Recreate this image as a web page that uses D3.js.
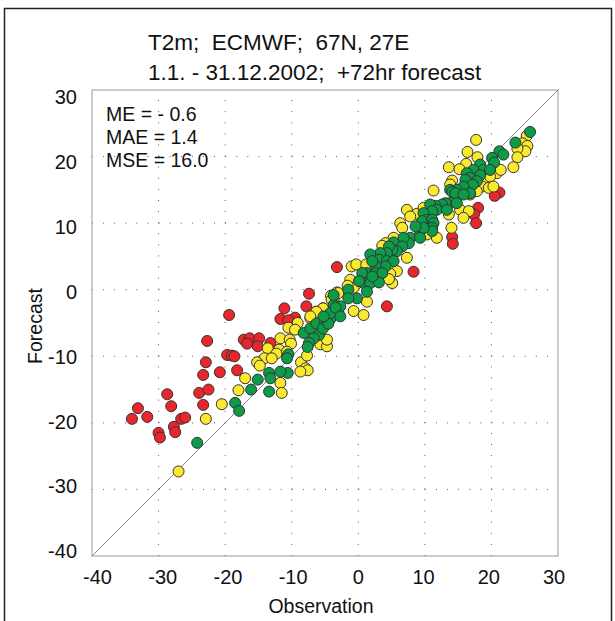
<!DOCTYPE html>
<meta charset="utf-8">
<script src="https://d3js.org/d3.v7.min.js"></script>
<style>
  body { margin: 0; background: #fff; }
  text { font-family: "Liberation Sans", Arial, sans-serif; fill: #111; white-space: pre; }
</style>
<div id="my_dataviz"></div>
<script>

// data: [observation, forecast]
var redPoints = [
  [-3.2,3.4],[-7.4,-0.6],[-7.8,-2.5],[-11.1,-2.8],[-9.5,-4.2],[-11.7,-4.4],[-10.5,-4.6],
  [-19.4,-3.8],[-17.2,-7.5],[-16.3,-7.3],[-14.9,-7.3],[-16.7,-8.1],[-15.1,-8.5],[-13.2,-8.0],
  [-22.7,-7.7],[-19.7,-9.8],[-19.0,-9.9],[-18.6,-10.0],[-22.9,-10.9],[-23.3,-12.8],[-20.8,-12.4],
  [-18.2,-12.1],[-23.9,-15.5],[-22.5,-15.0],[-23.3,-17.3],[-28.7,-15.7],[-28.1,-17.5],[-33.1,-17.8],
  [-31.7,-19.1],[-34.0,-19.4],[-26.6,-19.4],[-26.0,-19.2],[-27.7,-20.6],[-27.5,-21.4],[-30.0,-21.5],
  [-29.8,-22.2],[21.2,14.6],[20.5,14.1],[18.0,12.3],[17.4,11.3],[17.7,10.0],[14.1,7.9],[14.2,6.9],
  [8.3,2.7],[4.3,-2.5]
];
var yellowPoints = [
  [-3.2,-0.4],[-3.7,-1.4],[-4.1,-0.9],[-5.3,-2.8],[-6.3,-3.3],[-7.2,-4.3],[-6.0,-4.6],[-9.1,-5.0],
  [-10.5,-5.7],[-9.5,-6.0],[-11.7,-7.3],[-10.3,-7.5],[-10.1,-8.1],[-13.6,-8.8],[-11.9,-9.0],
  [-10.7,-9.3],[-12.3,-9.6],[-14.1,-10.3],[-13.0,-10.3],[-15.2,-10.9],[-14.8,-11.4],[-8.6,-10.9],
  [-7.9,-11.8],[-7.6,-12.1],[-8.7,-12.3],[-7.7,-9.9],[-5.7,-8.2],[-4.7,-8.5],[-4.7,-7.5],
  [-17.0,-13.3],[-18.0,-15.1],[-11.7,-14.0],[-11.5,-15.5],[-20.5,-17.2],[-22.9,-19.4],[-27.0,-27.3],
  [25.3,23.1],[24.7,22.0],[25.4,21.6],[25.1,20.8],[23.9,21.2],[23.9,19.9],[23.3,18.4],[17.7,22.5],
  [16.4,20.7],[17.9,19.9],[16.2,18.9],[13.6,18.4],[15.2,18.1],[20.8,17.5],[21.4,18.0],[19.1,16.3],
  [19.8,17.0],[14.1,16.4],[13.8,15.8],[18.6,15.5],[19.6,15.3],[20.3,15.5],[17.8,14.8],[11.3,14.9],
  [16.8,14.3],[7.3,12.0],[8.8,11.4],[7.8,11.0],[9.8,12.3],[15.3,12.0],[16.6,11.8],[15.8,10.8],
  [13.6,11.3],[6.3,10.0],[6.6,9.3],[10.3,8.3],[11.8,7.8],[14.0,9.3],[5.3,7.8],[4.1,7.0],[3.8,6.3],
  [3.6,6.6],[2.1,5.0],[2.4,4.5],[7.3,4.8],[5.8,2.8],[4.8,2.4],[5.1,1.0],[4.6,1.6],[-1.0,3.5],
  [-0.3,3.8],[1.2,3.8],[-1.2,1.5],[-0.7,0.3],[-1.6,0.6],[1.3,-1.8],[-0.7,-3.2],[0.8,-3.8],
  [-4.0,-1.5],[-3.0,-0.5],[-5.3,-2.8],[-6.3,-3.3],[-7.2,-4.0]
];
var greenPoints = [
  [-8.2,-6.5],[-7.2,-5.8],[-6.3,-5.1],[-5.9,-6.8],[-6.7,-7.3],[-7.4,-8.0],[-7.6,-8.6],[-5.0,-4.8],
  [-4.2,-4.4],[-3.7,-2.3],[-3.0,-3.3],[-5.3,-5.8],[-4.5,-5.1],[-10.5,-9.7],[-10.7,-10.3],
  [-10.6,-12.5],[-11.7,-12.3],[-13.4,-12.5],[-13.2,-13.3],[-15.1,-13.5],[-16.1,-15.0],[-13.4,-15.3],
  [-18.5,-17.0],[-17.9,-18.2],[-24.2,-23.0],
  [25.8,23.7],[23.6,22.1],[21.2,20.8],[21.8,20.3],[20.1,19.8],[20.4,19.1],[18.3,18.8],[18.8,18.0],
  [19.8,18.0],[17.3,18.0],[16.3,17.5],[18.3,17.2],[16.8,16.8],[16.1,16.5],[17.8,16.3],[17.2,15.8],
  [15.8,15.5],[14.8,15.0],[13.8,15.0],[14.1,14.7],[14.6,14.5],[16.8,14.5],[15.8,14.3],[13.8,13.0],
  [14.8,13.0],[13.1,13.0],[12.6,12.8],[11.6,12.6],[10.8,12.8],[11.8,12.0],[13.3,12.0],[11.1,11.8],
  [9.8,11.5],[10.3,10.5],[9.6,10.3],[11.1,10.5],[11.3,10.0],[11.1,9.3],[11.1,8.8],[9.3,8.8],
  [9.8,9.3],[8.6,9.5],[7.8,7.8],[9.3,7.8],[7.6,7.0],[6.8,7.8],[5.3,7.1],[6.6,6.5],[5.8,5.8],
  [5.1,6.0],[4.6,6.5],[4.3,5.5],[3.3,5.5],[3.1,4.5],[4.3,4.3],[5.3,4.3],[4.1,3.5],[2.6,3.5],
  [1.8,5.3],[2.1,4.3],[1.3,2.5],[2.6,2.5],[3.6,2.5],[0.6,2.5],[0.8,1.0],[1.8,1.0],[3.1,1.1],
  [1.3,-0.3],[2.1,2.0],[0.1,1.3],[-1.5,0.0],[-0.2,-1.3],[-1.5,-1.3],[-2.7,-2.5],[-3.7,-0.8],
  [-4.2,-3.5],[-3.4,-2.7],[-2.7,-4.0],[-5.2,-4.0]
];
var tickValues = [-40, -30, -20, -10, 0, 10, 20, 30];
var gridValues = [-30, -20, -10, 0, 10, 20];
var titleLines = ["T2m;  ECMWF;  67N, 27E", "1.1. - 31.12.2002;  +72hr forecast"];
var statLines = ["ME = - 0.6", "MAE = 1.4", "MSE = 16.0"];

//margin
var margin = {top: 90, right: 57, bottom: 65, left: 92},
    width = 466,
    height = 466;

var root = d3.select("#my_dataviz")
  .append("svg")
    .attr("width", 615)
    .attr("height", 621);

// outer frame
root.append("rect")
    .attr("x", 4.5).attr("y", 8.5)
    .attr("width", 607).attr("height", 620)
    .attr("fill", "none")
    .attr("stroke", "#222")
    .attr("stroke-width", 1.5);

// titles
root.selectAll(".title")
  .data(titleLines)
  .enter().append("text")
    .attr("class", "title")
    .attr("x", 148)
    .attr("y", function(d, i) { return 50 + i * 30; })
    .style("font-size", "22.5px")
    .text(function(d) { return d; });

var svg = root.append("g")
    .attr("transform", "translate(" + margin.left + "," + margin.top + ")");

var x = d3.scaleLinear().domain([-40, 30]).range([0, width]);
var y = d3.scaleLinear().domain([-40, 30]).range([height, 0]);
// the tick labels sit slightly inside the frame ends
var xLab = d3.scaleLinear().domain([-40, 30]).range([5, width - 4.5]);
var yLab = d3.scaleLinear().domain([-40, 30]).range([height - 4.5, 7]);

// dotted grid
var dash = "1," + ((x(-30) - x(-40)) / 6 - 1);
svg.selectAll(".vgrid")
  .data(gridValues)
  .enter().append("line")
    .attr("x1", function(d) { return x(d); })
    .attr("x2", function(d) { return x(d); })
    .attr("y1", height).attr("y2", 0)
    .attr("stroke", "#555")
    .attr("stroke-dasharray", dash);
svg.selectAll(".hgrid")
  .data(gridValues)
  .enter().append("line")
    .attr("y1", function(d) { return y(d); })
    .attr("y2", function(d) { return y(d); })
    .attr("x1", 0).attr("x2", width)
    .attr("stroke", "#555")
    .attr("stroke-dasharray", dash);

// plot frame
svg.append("rect")
    .attr("x", 0).attr("y", 0)
    .attr("width", width).attr("height", height)
    .attr("fill", "none")
    .attr("stroke", "#999")
    .attr("stroke-width", 1);

// 1:1 line
svg.append("line")
    .attr("x1", x(-40)).attr("y1", y(-40))
    .attr("x2", x(30)).attr("y2", y(30))
    .attr("stroke", "#888")
    .attr("stroke-width", 1);

// axes (labels only)
var fmt = function(d) { return String(d); };
svg.append("g")
    .attr("transform", "translate(0," + height + ")")
    .call(d3.axisBottom(xLab).tickValues(tickValues).tickFormat(fmt).tickSize(0).tickPadding(14));
svg.append("g")
    .call(d3.axisLeft(yLab).tickValues(tickValues).tickFormat(fmt).tickSize(0).tickPadding(15));
svg.selectAll(".domain").remove();
svg.selectAll(".tick text")
    .style("font-size", "20px")
    .style("font-family", "'Liberation Sans', Arial, sans-serif")
    .attr("fill", "#111");

//axis label
svg.append("text")
    .attr("text-anchor", "middle")
    .attr("x", width / 2 - 4)
    .attr("y", height + 57)
    .style("font-size", "19.5px")
    .text("Observation");
svg.append("text")
    .attr("text-anchor", "middle")
    .attr("transform", "translate(-50," + (height / 2 + 3) + ") rotate(-90)")
    .style("font-size", "19.5px")
    .text("Forecast");

// stats
svg.selectAll(".stat")
  .data(statLines)
  .enter().append("text")
    .attr("class", "stat")
    .attr("x", 14)
    .attr("y", function(d, i) { return 31 + i * 23; })
    .style("font-size", "19.5px")
    .text(function(d) { return d; });

// points
function drawPoints(data, color) {
  svg.append("g")
    .selectAll("circle")
    .data(data)
    .enter().append("circle")
      .attr("cx", function(d) { return x(d[0]); })
      .attr("cy", function(d) { return y(d[1]); })
      .attr("r", 5.5)
      .attr("fill", color)
      .attr("stroke", "#333")
      .attr("stroke-width", 1);
}
drawPoints(redPoints, "#e8262b");
drawPoints(yellowPoints, "#fbe92e");
drawPoints(greenPoints, "#0c9b48");

</script>
